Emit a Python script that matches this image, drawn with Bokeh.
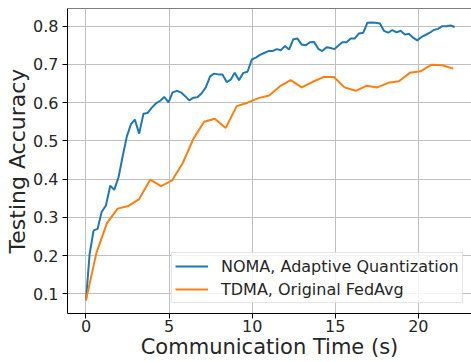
from bokeh.plotting import figure
from bokeh.models import Range1d, FixedTicker, Span, Legend
from bokeh.embed import file_html
from bokeh.resources import INLINE

# ---- data ----
noma_time = [0.00, 0.22, 0.46, 0.70, 0.94, 1.20, 1.46, 1.70, 1.96, 2.20,
             2.46, 2.70, 2.94, 3.20, 3.46, 3.70, 3.96, 4.21, 4.47, 4.71,
             4.97, 5.21, 5.47, 5.71, 5.97, 6.21, 6.47, 6.71, 6.95, 7.21,
             7.47, 7.71, 7.97, 8.21, 8.47, 8.71, 8.95, 9.21, 9.47, 9.72,
             9.98, 10.22, 10.47, 10.72, 10.98, 11.22, 11.48, 11.72, 11.98, 12.22,
             12.48, 12.72, 12.98, 13.22, 13.48, 13.72, 13.98, 14.22, 14.48, 14.72,
             14.94, 15.18, 15.43, 15.68, 15.93, 16.18, 16.43, 16.69, 16.93, 17.19,
             17.43, 17.69, 17.93, 18.19, 18.43, 18.69, 18.93, 19.19, 19.43, 19.69,
             19.93, 20.19, 20.43, 20.69, 20.93, 21.19, 21.44, 21.69, 21.93, 22.19]
noma_acc = [0.083, 0.205, 0.266, 0.270, 0.314, 0.331, 0.383, 0.372, 0.405, 0.458,
            0.512, 0.543, 0.556, 0.519, 0.571, 0.573, 0.587, 0.598, 0.605, 0.615,
            0.601, 0.627, 0.631, 0.627, 0.617, 0.606, 0.613, 0.614, 0.624, 0.640,
            0.669, 0.676, 0.674, 0.674, 0.654, 0.660, 0.678, 0.659, 0.678, 0.681,
            0.713, 0.718, 0.725, 0.730, 0.735, 0.735, 0.740, 0.737, 0.748, 0.739,
            0.766, 0.768, 0.752, 0.750, 0.758, 0.759, 0.741, 0.735, 0.745, 0.743,
            0.740, 0.749, 0.758, 0.758, 0.768, 0.768, 0.781, 0.783, 0.809, 0.810,
            0.809, 0.807, 0.788, 0.783, 0.790, 0.784, 0.788, 0.778, 0.780, 0.770,
            0.763, 0.772, 0.777, 0.783, 0.790, 0.793, 0.800, 0.800, 0.802, 0.798]

tdma_time = [0.00, 0.62, 1.26, 1.90, 2.56, 3.20, 3.87, 4.51, 5.17, 5.81,
             6.47, 7.11, 7.75, 8.41, 9.07, 9.72, 10.38, 11.02, 11.68, 12.32,
             12.98, 13.62, 14.28, 14.92, 15.56, 16.23, 16.87, 17.53, 18.19, 18.83,
             19.49, 20.13, 20.77, 21.44, 22.10]
tdma_acc = [0.083, 0.206, 0.285, 0.323, 0.330, 0.348, 0.399, 0.382, 0.396, 0.441,
            0.506, 0.550, 0.558, 0.534, 0.591, 0.600, 0.612, 0.619, 0.643, 0.659,
            0.640, 0.654, 0.667, 0.667, 0.640, 0.631, 0.644, 0.640, 0.652, 0.656,
            0.678, 0.682, 0.699, 0.698, 0.689]

x_ticks = [0, 5, 10, 15, 20]
y_ticks = [0.1, 0.2, 0.3, 0.4, 0.5, 0.6, 0.7, 0.8]

series_labels = ["NOMA, Adaptive Quantization", "TDMA, Original FedAvg"]
series_colors = ["#1f77b4", "#ff7f0e"]
x_title = "Communication Time (s)"
y_title = "Testing Accuracy"

FONT = "DejaVu Sans"
TXT = "#262626"

p = figure(width=471, height=362, output_backend="svg", toolbar_location=None,
           x_range=Range1d(-1.112, 23.2), y_range=Range1d(0.0487, 0.8463),
           min_border_left=67, min_border_right=0, min_border_top=8,
           min_border_bottom=49)
p.outline_line_color = None
p.background_fill_color = "white"
p.border_fill_color = "white"

r1 = p.line(noma_time, noma_acc, line_color=series_colors[0], line_width=2)
r2 = p.line(tdma_time, tdma_acc, line_color=series_colors[1], line_width=2)

p.xaxis.ticker = FixedTicker(ticks=x_ticks)
p.yaxis.ticker = FixedTicker(ticks=y_ticks)

for ax in (p.xaxis, p.yaxis):
    ax.axis_line_color = "black"
    ax.axis_line_width = 1
    ax.major_tick_line_color = "black"
    ax.major_tick_line_width = 1
    ax.major_tick_in = 0
    ax.major_tick_out = 5
    ax.minor_tick_line_color = None
    ax.major_label_text_font = FONT
    ax.major_label_text_font_size = "16px"
    ax.major_label_text_color = TXT
    ax.axis_label_text_font = FONT
    ax.axis_label_text_font_style = "normal"
    ax.axis_label_text_color = TXT

p.xaxis.axis_label = x_title
p.yaxis.axis_label = y_title
p.xaxis.axis_label_text_font_size = "21px"
p.yaxis.axis_label_text_font_size = "22px"
p.xaxis.axis_label_standoff = 0
p.yaxis.axis_label_standoff = 0
p.xaxis.major_label_standoff = 1
p.yaxis.major_label_standoff = 4

p.xgrid.grid_line_color = "#c0c0c0"
p.ygrid.grid_line_color = "#c0c0c0"
p.xgrid.grid_line_width = 1
p.ygrid.grid_line_width = 1

top_spine = Span(location=0.8463, dimension="width", line_color="black", line_width=1)
p.add_layout(top_spine)

legend = Legend(items=[(series_labels[0], [r1]), (series_labels[1], [r2])],
                location=(104, 10))
legend.label_text_font = FONT
legend.label_text_font_size = "16px"
legend.label_text_color = TXT
legend.glyph_width = 33
legend.glyph_height = 20
legend.label_height = 20
legend.label_standoff = 13
legend.spacing = 3
legend.padding = 3
legend.margin = 0
legend.border_line_color = "#cccccc"
legend.border_line_width = 1
legend.background_fill_color = "white"
legend.background_fill_alpha = 0.8
p.add_layout(legend)

open("out.html", "w").write(file_html(p, INLINE))
